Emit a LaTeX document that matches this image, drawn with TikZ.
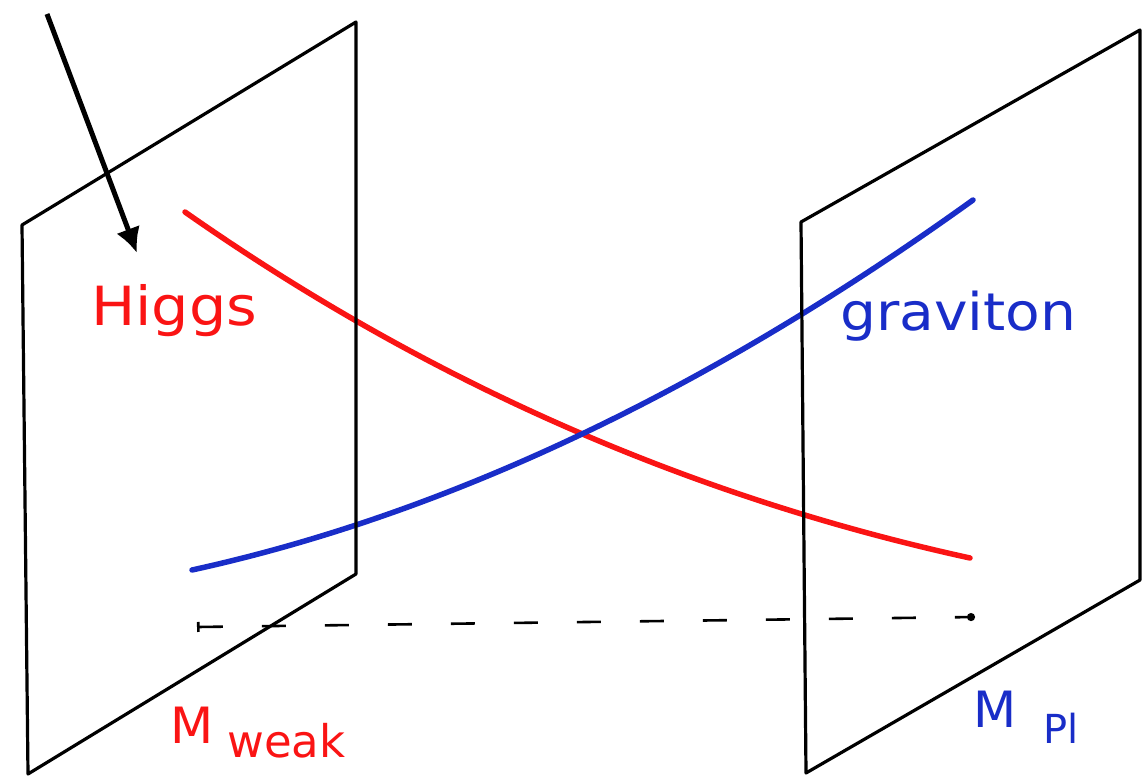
\documentclass[tikz,border=0pt]{standalone}
\usepackage{fontspec}
\setmainfont{DejaVu Sans}
\usetikzlibrary{arrows.meta}
\definecolor{penred}{RGB}{250,20,20}
\definecolor{penblue}{RGB}{25,45,200}
\tikzset{
  plane/.style={line width=3.2pt, line join=round, line cap=round, black},
  curvered/.style={line width=5.5pt, line cap=round, penred},
  curveblue/.style={line width=5.5pt, line cap=round, penblue},
  pointer/.style={line width=5pt, -{Latex[length=25pt,width=25pt]}},
  distline/.style={line width=2.6pt, dash pattern=on 24pt off 39pt, {Bar[width=10pt,line width=2.6pt]}-{Circle[length=8pt]}},
  lbl/.style={inner sep=0pt, anchor=base west},
}
\begin{document}
\begin{tikzpicture}[x=1pt,y=-1pt]
\useasboundingbox (0,0) rectangle (1143,779);
% planes
\coordinate (L1) at (22,225);
\coordinate (L2) at (356,22);
\coordinate (L3) at (356,574);
\coordinate (L4) at (28,774);
\coordinate (R1) at (801,222);
\coordinate (R2) at (1140,30);
\coordinate (R3) at (1140,580);
\coordinate (R4) at (806,773);
% curves
\coordinate (hs) at (185,212);
\coordinate (he) at (970,558);
\coordinate (gs) at (192,570);
\coordinate (ge) at (973,200);
\draw[curvered] (hs) .. controls (445,394) and (710,501) .. (he);
\draw[curveblue] (gs) .. controls (452,513) and (713,387) .. (ge);
\draw[plane] (L1) -- (L2) -- (L3) -- (L4) -- cycle;
\draw[plane] (R1) -- (R2) -- (R3) -- (R4) -- cycle;
% dashed distance line
\coordinate (ds) at (197,627);
\coordinate (de) at (975,617);
\draw[distline] (ds) -- (de);
% pointer arrow
\coordinate (as) at (47,14);
\coordinate (ae) at (137,253);
\draw[pointer] (as) -- (ae);
% labels
\node[lbl, text=penred, font=\fontsize{54}{60}\selectfont] (higgs) at (91,325) {\scalebox{1.09}[1]{Higgs}};
\node[lbl, text=penblue, font=\fontsize{52}{60}\selectfont] (grav) at (840,330) {\scalebox{1.09}[1]{graviton}};
\node[lbl, text=penred, font=\fontsize{50}{54}\selectfont] (mw) at (170,743) {M};
\node[lbl, text=penred, font=\fontsize{45}{50}\selectfont] (weak) at (227,757) {weak};
\node[lbl, text=penblue, font=\fontsize{50}{54}\selectfont] (mp) at (973,727) {M};
\node[lbl, text=penblue, font=\fontsize{40}{44}\selectfont] (pl) at (1043,743) {Pl};
\end{tikzpicture}
\end{document}
